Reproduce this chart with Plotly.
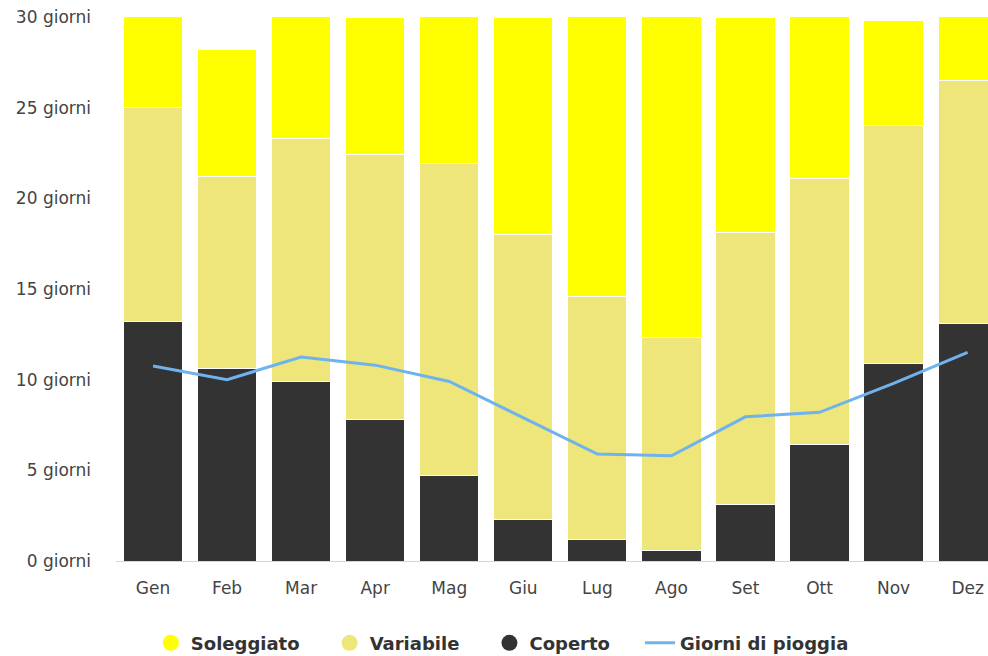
import plotly.graph_objects as go

mesi = ["Gen", "Feb", "Mar", "Apr", "Mag", "Giu", "Lug", "Ago", "Set", "Ott", "Nov", "Dez"]
coperto = [13.2, 10.6, 9.9, 7.8, 4.7, 2.3, 1.2, 0.6, 3.1, 6.4, 10.9, 13.1]
variabile = [11.8, 10.6, 13.4, 14.6, 17.2, 15.7, 13.4, 11.7, 15.0, 14.7, 13.1, 13.4]
soleggiato = [6.0, 7.0, 7.7, 7.6, 9.1, 12.0, 16.4, 18.7, 11.9, 9.9, 5.8, 4.5]
pioggia = [10.75, 10.0, 11.25, 10.8, 9.9, 7.9, 5.9, 5.8, 7.95, 8.2, 9.8, 11.5]
y_ticks = [0, 5, 10, 15, 20, 25, 30]
y_ticktext = [f"{v} giorni" for v in y_ticks]

C_SOLE = "#ffff00"
C_VAR = "#eee67a"
C_COP = "#333333"
C_RAIN = "#6fb3ee"

fig = go.Figure()
for name, vals, col in [("Coperto", coperto, C_COP), ("Variabile", variabile, C_VAR), ("Soleggiato", soleggiato, C_SOLE)]:
    fig.add_trace(go.Bar(x=mesi, y=vals, name=name, marker=dict(color=col, line=dict(color="white", width=1)),
                         showlegend=False, width=0.8))
fig.add_trace(go.Scatter(x=mesi, y=pioggia, mode="lines", line=dict(color=C_RAIN, width=3), showlegend=False))

# legend entries
pad = "\u00a0" * 4
for name, col in [("Soleggiato", C_SOLE), ("Variabile", C_VAR), ("Coperto", C_COP)]:
    fig.add_trace(go.Scatter(x=[None], y=[None], mode="markers", name=name + pad,
                             marker=dict(symbol="circle", size=19, color=col)))
fig.add_trace(go.Scatter(x=[None], y=[None], mode="lines", name="Giorni di pioggia",
                         line=dict(color=C_RAIN, width=3)))

fig.update_layout(
    barmode="stack",
    width=988, height=656,
    margin=dict(l=115.5, r=0, t=17, b=95, autoexpand=False),
    plot_bgcolor="white", paper_bgcolor="white",
    font=dict(family="DejaVu Sans, Verdana, sans-serif", color="#333333"),
    bargap=0.2,
    legend=dict(orientation="h", x=0.443, xanchor="center", y=-0.151, yanchor="middle",
                font=dict(size=18, family="DejaVu Sans", weight="bold", color="#333333"),
                traceorder="normal", itemwidth=30),
)
fig.update_xaxes(range=[-0.5, 11.275], showgrid=False, showline=True, linecolor="#ccd6eb",
                 tickfont=dict(size=17, color="#444444"), ticks="", ticklabelstandoff=12)
fig.update_yaxes(range=[0, 30], tickvals=y_ticks, ticktext=y_ticktext, showgrid=False, zeroline=False,
                 tickfont=dict(size=17, color="#444444"), ticklabelstandoff=24)

fig.write_html("out.html")
